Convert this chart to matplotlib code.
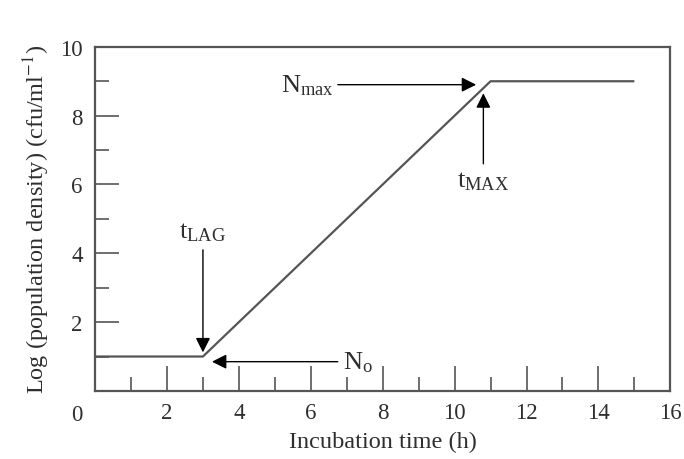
import matplotlib.pyplot as plt
from matplotlib.ticker import FixedLocator
import matplotlib.transforms as mtransforms

plt.rcParams['font.family'] = ['Liberation Serif', 'DejaVu Serif']
plt.rcParams['mathtext.fontset'] = 'stix'

# Growth curve: lag phase, exponential phase, stationary phase
time_h = [0, 3, 11, 15]
log_density = [1, 1, 9, 9]

x_major = [0, 2, 4, 6, 8, 10, 12, 14, 16]
x_minor = [1, 3, 5, 7, 9, 11, 13, 15]
y_major = [0, 2, 4, 6, 8, 10]
y_minor = [1, 3, 5, 7, 9]
y_labels = ['', '2', '4', '6', '8', '10']

text_col = '#2e2e2e'
line_col = '#555555'

fig = plt.figure(figsize=(6.84, 4.60), dpi=100)
ax = fig.add_axes([0.139, 0.148, 0.841, 0.748])

ax.plot(time_h, log_density, color=line_col, lw=1.6, solid_capstyle='butt')

ax.set_xlim(0, 16)
ax.set_ylim(0, 10)

ax.xaxis.set_major_locator(FixedLocator(x_major))
ax.xaxis.set_minor_locator(FixedLocator(x_minor))
ax.yaxis.set_major_locator(FixedLocator(y_major))
ax.yaxis.set_minor_locator(FixedLocator(y_minor))
ax.set_yticklabels(y_labels)

ax.tick_params(axis='both', which='both', direction='in', colors=line_col,
               labelcolor=text_col, labelsize=16.5)
ax.tick_params(axis='x', which='major', length=18, width=1.2, pad=8)
ax.tick_params(axis='x', which='minor', length=10, width=1.2)
ax.tick_params(axis='y', which='major', length=17, width=1.2, pad=9)
ax.tick_params(axis='y', which='minor', length=10, width=1.2)

# shift the "0" label into the corner
lbl0 = ax.get_xticklabels()[0]
lbl0.set_transform(lbl0.get_transform() +
                   mtransforms.ScaledTranslation(-0.18, -0.02, fig.dpi_scale_trans))

for s in ax.spines.values():
    s.set_color(line_col)
    s.set_linewidth(1.6)

ax.set_xlabel('Incubation time (h)', fontsize=17.5, color=text_col, labelpad=4)
ax.set_ylabel(r'Log (population density) (cfu/ml$^{-1}$)', fontsize=17.5,
              color=text_col, labelpad=6)

arrow = dict(arrowstyle='-|>', color='black', lw=1.0, mutation_scale=22,
             shrinkA=0, shrinkB=0)

# t_LAG
ax.annotate('', xy=(3.0, 1.12), xytext=(3.0, 4.1), arrowprops=arrow)
ax.text(3.0, 4.3, r'$\mathregular{t_{LAG}}$', ha='center', va='bottom',
        fontsize=19, color=text_col)

# N_0
ax.annotate('', xy=(3.25, 0.85), xytext=(6.75, 0.85), arrowprops=arrow)
ax.text(6.9, 0.85, r'$\mathregular{N_{o}}$', ha='left', va='center',
        fontsize=19, color=text_col)

# N_max
ax.annotate('', xy=(10.6, 8.9), xytext=(6.75, 8.9), arrowprops=arrow)
ax.text(6.65, 8.9, r'$\mathregular{N_{max}}$', ha='right', va='center',
        fontsize=19, color=text_col)

# t_MAX
ax.annotate('', xy=(10.8, 8.65), xytext=(10.8, 6.6), arrowprops=arrow)
ax.text(10.8, 6.45, r'$\mathregular{t_{MAX}}$', ha='center', va='top',
        fontsize=19, color=text_col)

fig.savefig('out.png', dpi=100)
